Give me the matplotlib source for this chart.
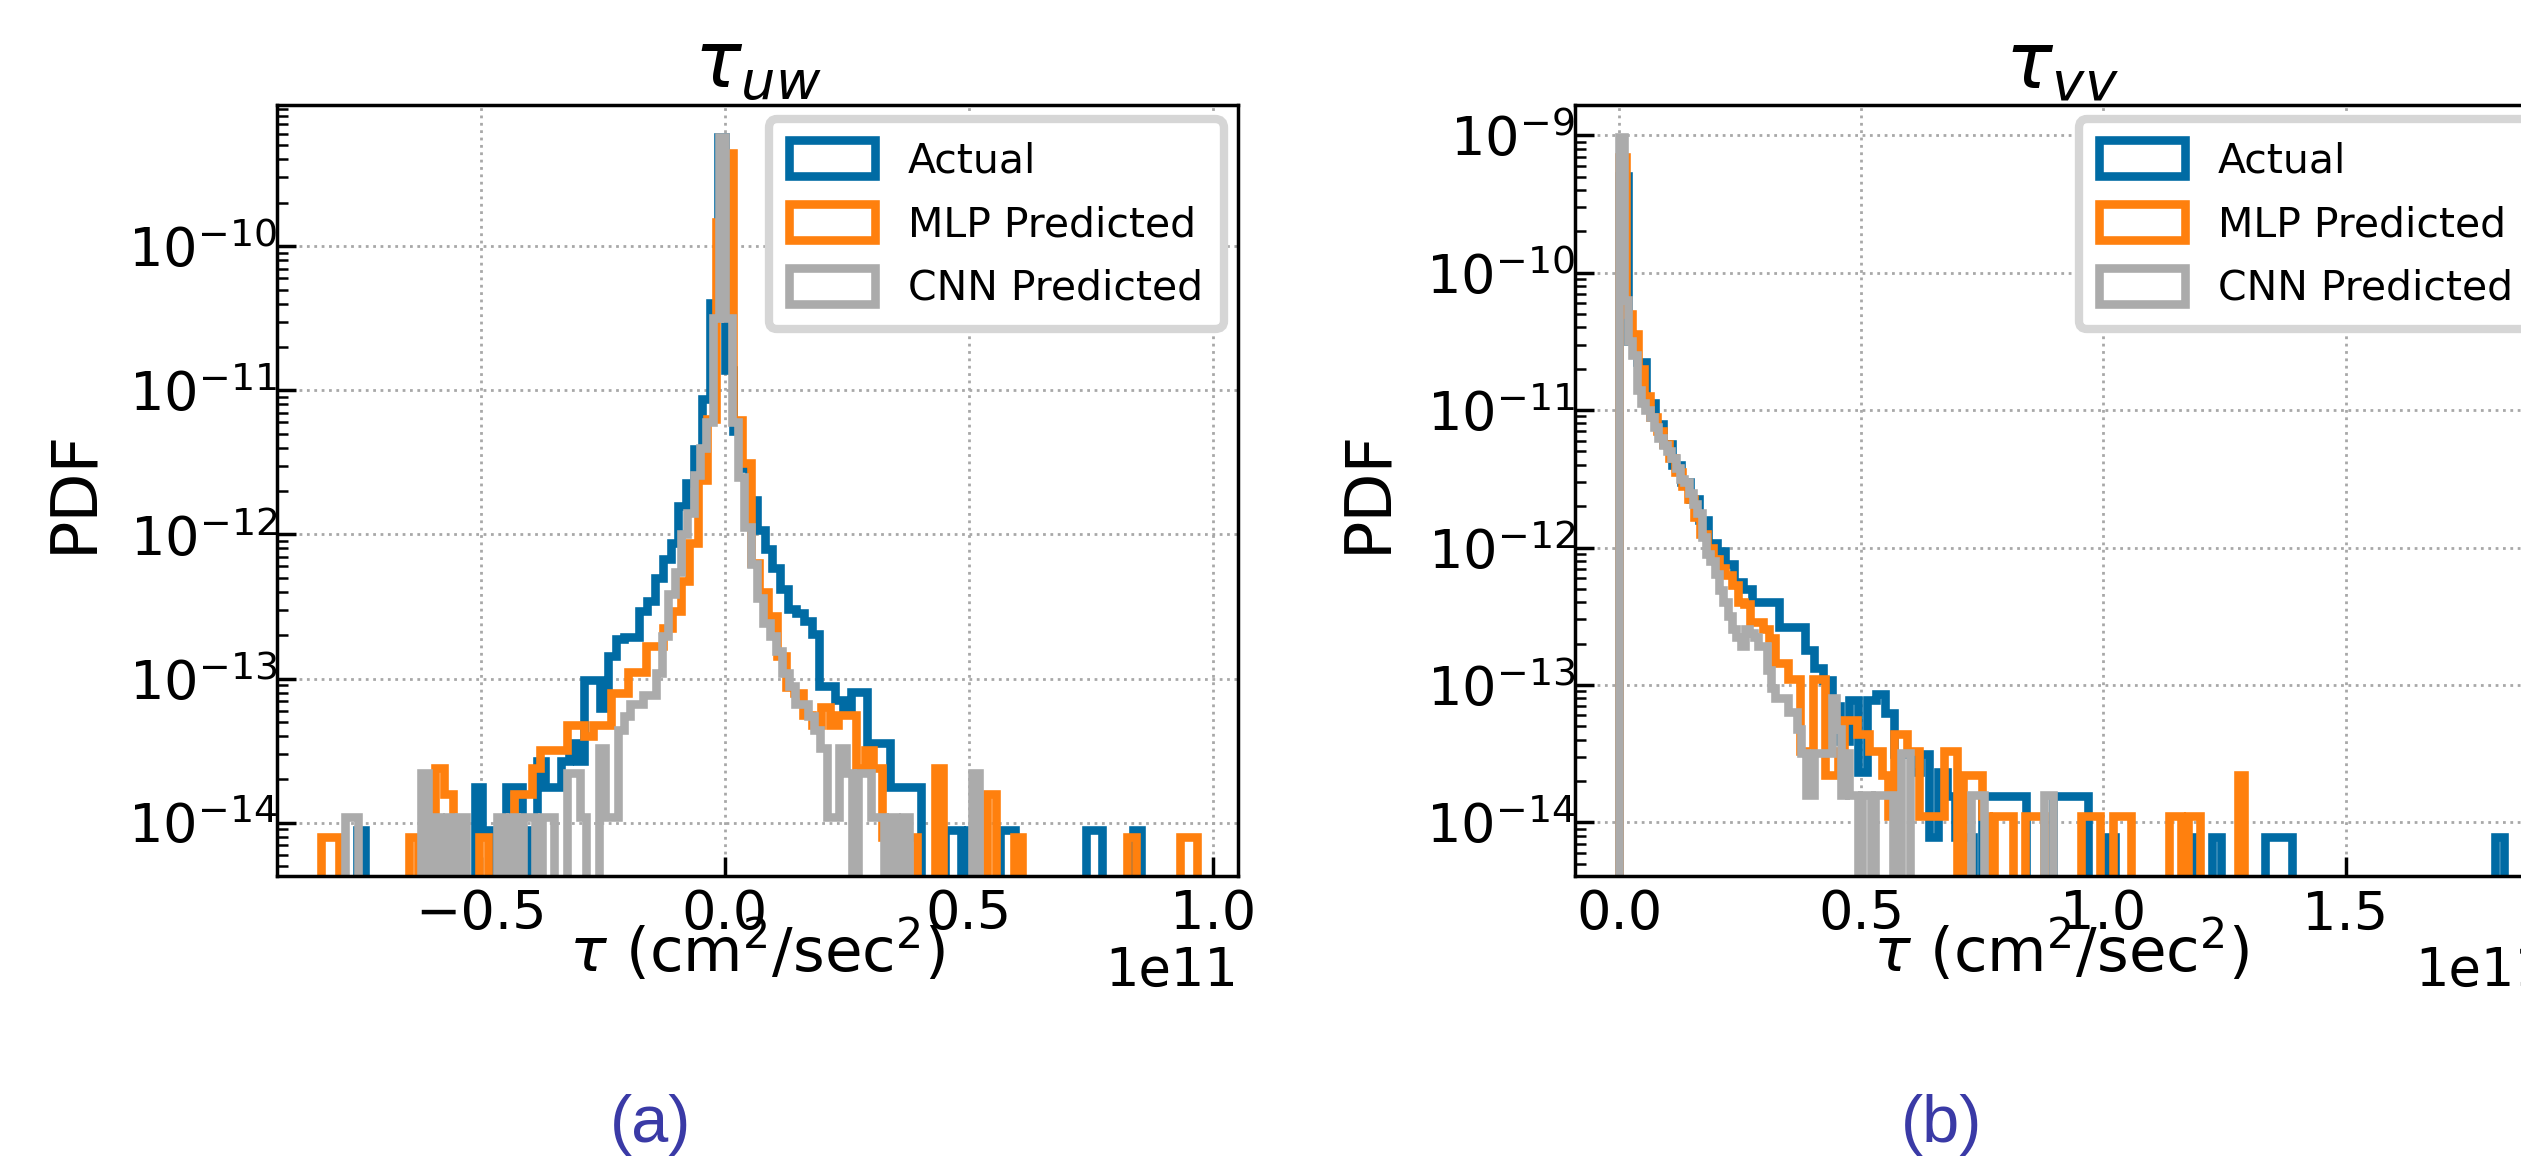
import numpy as np
import matplotlib
matplotlib.use("Agg")
import matplotlib.pyplot as plt
from matplotlib.ticker import MultipleLocator, LogLocator, NullFormatter

# ---------------- data ----------------
N_SAMPLES = 70000
series_labels = ["Actual", "MLP Predicted", "CNN Predicted"]
series_colors = ["#006BA4", "#FF800E", "#ABABAB"]

# tau_uw : value ranges of each series and counts in 100 equal bins
uw_range_actual = (-0.753e11, 0.852e11)
uw_range_mlp = (-0.826e11, 0.968e11)
uw_range_cnn = (-0.777e11, 0.520e11)

uw_counts_actual = [1, 0, 0, 0, 0, 0, 0, 0, 0, 0,
                    0, 0, 0, 0, 0, 2, 1, 0, 0, 2,
                    2, 0, 1, 3, 2, 2, 3, 4, 3, 11,
                    11, 7, 16, 21, 22, 22, 33, 39, 56, 76,
                    98, 178, 257, 437, 977, 4571, 64565, 1549, 589, 324,
                    195, 120, 89, 66, 47, 34, 32, 28, 23, 10,
                    10, 8, 7, 9, 9, 4, 4, 4, 2, 2,
                    2, 2, 0, 0, 0, 1, 1, 0, 1, 0,
                    0, 0, 1, 1, 0, 0, 0, 0, 0, 0,
                    0, 0, 0, 1, 1, 0, 0, 0, 0, 1]
uw_counts_mlp = [1, 1, 0, 0, 0, 0, 0, 0, 0, 0,
                 1, 0, 0, 3, 2, 1, 0, 0, 1, 0,
                 0, 0, 2, 2, 3, 4, 4, 4, 6, 6,
                 5, 6, 6, 10, 10, 14, 14, 21, 21, 28,
                 37, 60, 109, 300, 800, 18580, 56100, 787, 394, 79,
                 50, 34, 18, 11, 10, 7, 6, 8, 6, 7,
                 7, 3, 4, 3, 1, 0, 1, 1, 0, 0,
                 3, 0, 0, 0, 0, 0, 2, 0, 0, 1,
                 0, 0, 0, 0, 0, 0, 0, 0, 0, 0,
                 0, 0, 1, 0, 0, 0, 0, 0, 1, 1]
uw_counts_cnn = [1, 1, 0, 0, 0, 0, 0, 0, 0, 0,
                 0, 0, 2, 0, 1, 0, 1, 0, 1, 0,
                 0, 0, 0, 0, 1, 0, 1, 0, 1, 1,
                 0, 1, 1, 0, 0, 2, 2, 1, 0, 0,
                 3, 1, 1, 4, 5, 6, 6, 7, 7, 10,
                 18, 35, 50, 91, 128, 233, 360, 547, 2871, 52240,
                 2871, 547, 228, 102, 57, 33, 22, 18, 14, 10,
                 8, 6, 6, 5, 4, 3, 1, 1, 3, 2,
                 0, 2, 2, 1, 1, 0, 1, 0, 1, 0,
                 0, 0, 0, 0, 0, 0, 0, 0, 0, 2]

# tau_vv
vv_range_actual = (0.0, 1.827e11)
vv_range_mlp = (0.0, 1.290e11)
vv_range_cnn = (0.0, 0.896e11)

vv_counts_actual = [64120, 4046, 2864, 1432, 1016, 719, 509, 385, 286, 203,
                    138, 120, 97, 72, 64, 51, 51, 51, 34, 34,
                    34, 23, 17, 14, 9, 5, 10, 3, 10, 11,
                    8, 4, 4, 3, 4, 1, 3, 2, 1, 1,
                    0, 2, 2, 2, 2, 2, 0, 0, 0, 2,
                    2, 2, 2, 0, 0, 1, 0, 0, 0, 0,
                    0, 0, 0, 0, 1, 0, 0, 1, 0, 0,
                    0, 0, 0, 1, 1, 1, 0, 0, 0, 0,
                    0, 0, 0, 0, 0, 0, 0, 0, 0, 0,
                    0, 0, 0, 0, 0, 0, 0, 0, 0, 1]
vv_counts_mlp = [62520, 4529, 3206, 1803, 1138, 806, 640, 508, 404, 321,
                 255, 202, 150, 114, 90, 75, 64, 57, 48, 36,
                 35, 26, 26, 23, 20, 13, 13, 10, 10, 3,
                 3, 10, 10, 2, 2, 3, 5, 5, 4, 4,
                 3, 3, 2, 1, 4, 4, 3, 3, 1, 1,
                 1, 1, 3, 3, 0, 2, 2, 2, 1, 0,
                 1, 1, 1, 0, 0, 1, 1, 1, 0, 0,
                 0, 0, 0, 0, 1, 1, 1, 0, 0, 1,
                 1, 1, 0, 0, 0, 0, 0, 0, 1, 1,
                 0, 1, 1, 0, 0, 0, 0, 0, 0, 2]
vv_counts_cnn = [61240, 3954, 1982, 1574, 885, 703, 627, 558, 475, 395,
                 352, 314, 280, 238, 198, 189, 157, 131, 111, 75,
                 56, 50, 40, 31, 25, 20, 16, 14, 12, 16,
                 15, 14, 12, 12, 8, 6, 5, 5, 5, 4,
                 4, 3, 2, 1, 1, 2, 2, 2, 2, 5,
                 3, 1, 2, 1, 1, 0, 1, 1, 0, 1,
                 1, 1, 1, 0, 0, 2, 2, 0, 0, 0,
                 0, 0, 0, 0, 0, 0, 0, 0, 0, 0,
                 0, 1, 1, 1, 0, 0, 0, 0, 0, 0,
                 0, 0, 0, 0, 0, 0, 0, 0, 1, 1]

titles = [r"$\tau_{uw}$", r"$\tau_{vv}$"]
xlabel = r"$\tau$ (cm$^2$/sec$^2$)"
ylabel = "PDF"
panel_tags = ["(a)", "(b)"]

# ---------------- figure ----------------
W, H, DPI = 2521, 1156, 100
fig = plt.figure(figsize=(W / DPI, H / DPI), dpi=DPI)
plt.rcParams["font.family"] = ["DejaVu Sans"]

ax_boxes = [
    (277 / W, (H - 876) / H, (1238 - 277) / W, (876 - 105) / H),
    (1575 / W, (H - 876) / H, (2548 - 1575) / W, (876 - 105) / H),
]
xlims = [(-0.917e11, 1.051e11), (-0.0914e11, 1.918e11)]
ylims = [(10 ** -14.37, 10 ** -9.02), (10 ** -14.39, 10 ** -8.78)]
ylabel_x = [-0.179, -0.181]

panels = [
    ([uw_range_actual, uw_range_mlp, uw_range_cnn],
     [uw_counts_actual, uw_counts_mlp, uw_counts_cnn]),
    ([vv_range_actual, vv_range_mlp, vv_range_cnn],
     [vv_counts_actual, vv_counts_mlp, vv_counts_cnn]),
]

TICK_FS = 39
LABEL_FS = 44
for i, (ranges, counts_list) in enumerate(panels):
    ax = fig.add_axes(ax_boxes[i])
    for rng, counts, lab, col in zip(ranges, counts_list, series_labels, series_colors):
        counts = np.asarray(counts, dtype=float)
        edges = np.linspace(rng[0], rng[1], len(counts) + 1)
        width = edges[1] - edges[0]
        centers = 0.5 * (edges[:-1] + edges[1:])
        pdf = counts / (N_SAMPLES * width)
        ax.hist(centers, bins=edges, weights=pdf, histtype="step",
                color=col, linewidth=6.2, label=lab)
    ax.set_yscale("log")
    ax.set_xlim(*xlims[i])
    ax.set_ylim(*ylims[i])
    ax.xaxis.set_major_locator(MultipleLocator(0.5e11))
    ax.yaxis.set_major_locator(LogLocator(base=10, numticks=20))
    ax.yaxis.set_minor_locator(LogLocator(base=10, subs=np.arange(2, 10), numticks=100))
    ax.yaxis.set_minor_formatter(NullFormatter())
    ax.grid(True, which="major", linestyle=":", color="#a8a8a8", linewidth=2)
    ax.tick_params(which="major", direction="in", length=14, width=2.5,
                   labelsize=TICK_FS)
    ax.tick_params(axis="x", which="major", pad=9)
    ax.tick_params(axis="y", which="major", pad=0)
    ax.tick_params(which="minor", direction="in", length=8, width=1.8)
    ax.xaxis.get_offset_text().set_fontsize(38)
    for sp in ax.spines.values():
        sp.set_linewidth(2.5)
    ax.set_title(titles[i], fontsize=56, pad=12)
    ax.set_xlabel(xlabel, fontsize=LABEL_FS)
    ax.xaxis.set_label_coords(0.5, -(952 - 876) / 771)
    ax.xaxis.label.set_verticalalignment("center")
    ax.set_ylabel(ylabel, fontsize=46)
    ax.yaxis.set_label_coords(ylabel_x[i], 0.5)
    leg = ax.legend(loc="upper right", fontsize=29.5, frameon=True, fancybox=True,
                    framealpha=1.0, edgecolor="#d6d6d6", handlelength=2.1,
                    handleheight=1.0, handletextpad=0.8, borderaxespad=0.35,
                    labelspacing=0.55, borderpad=0.5)
    leg.get_frame().set_linewidth(6)

for tag, xc in zip(panel_tags, [651, 1942]):
    fig.text(xc / W, 1 - 1125 / H, tag, ha="center", va="center",
             fontsize=48, color="#3a3aa6", family=["Liberation Sans", "DejaVu Sans"])

fig.savefig("out.png", dpi=DPI, facecolor="white")
